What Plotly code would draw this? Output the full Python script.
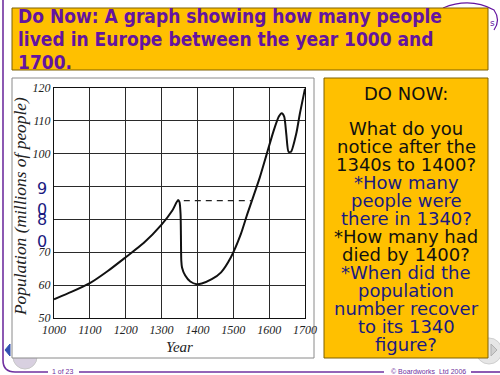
import plotly.graph_objects as go

# ---- data ----
years = [1000, 1050, 1100, 1150, 1200, 1250, 1300, 1330, 1346, 1350, 1353, 1354, 1355,
         1357, 1366, 1380, 1398, 1412, 1440, 1466, 1493, 1521, 1539, 1557, 1574, 1593,
         1612, 1627, 1635, 1642, 1648, 1654, 1661, 1676, 1685, 1700]
population = [55.7, 58.0, 60.6, 64.3, 68.5, 72.8, 78.4, 82.7, 85.9, 85.3, 81.5, 75.0, 67.5,
              65.4, 62.9, 61.1, 60.3, 60.5, 61.8, 63.9, 68.4, 75.5, 81.6, 87.3, 92.8, 99.8,
              106.8, 111.3, 112.3, 111.3, 105.8, 100.6, 100.6, 106.3, 111.8, 119.8]
ref_years = [1362, 1553]
ref_level = [85.7, 85.7]
x_ticks = [1000, 1100, 1200, 1300, 1400, 1500, 1600, 1700]
y_ticks = [50, 60, 70, 80, 90, 100, 110, 120]
y_ticktext = ["50", "60", "70", "", "", "100", "110", "120"]
title_lines = ["Do Now: A graph showing how many people",
               "lived in Europe between the year 1000 and",
               "1700."]
box_lines = ["DO NOW:", "", "What do you", "notice after the", "1340s to 1400?",
             "*How many", "people were", "there in 1340?",
             "*How many had", "died by 1400?",
             "*When did the", "population", "number recover", "to its 1340", "figure?"]

W, H = 500, 375
def px(x): return x / W
def py(y): return 1 - y / H

PURPLE = "#6414A0"
ORANGE = "#FFC000"
NAVY = "#1A1A80"
SERIF = "Liberation Serif"
TITLE_FONT = "DejaVu Sans Condensed, DejaVu Sans"
BOX_FONT = "DejaVu Sans"

fig = go.Figure()
fig.add_trace(go.Scatter(x=years, y=population, mode="lines",
                         line=dict(color="#111", width=2, shape="spline", smoothing=0.6),
                         hoverinfo="skip", showlegend=False))
fig.add_trace(go.Scatter(x=ref_years, y=ref_level, mode="lines",
                         line=dict(color="#222", width=1.3, dash="6px,5px"),
                         hoverinfo="skip", showlegend=False))

shapes = []
def rect(x0, y0, x1, y1, fill, line, lw=1, layer="below"):
    shapes.append(dict(type="rect", xref="paper", yref="paper",
                       x0=px(x0), x1=px(x1), y0=py(y1), y1=py(y0),
                       fillcolor=fill, line=dict(color=line, width=lw), layer=layer))

def path(pts_str, color, width=1.5, fill=None, layer="below"):
    shapes.append(dict(type="path", xref="paper", yref="paper", path=pts_str,
                       line=dict(color=color, width=width),
                       fillcolor=fill if fill else "rgba(0,0,0,0)", layer=layer))

def P(x, y): return f"{px(x):.5f},{py(y):.5f}"

# nav buttons (behind panels)
shapes.append(dict(type="circle", xref="paper", yref="paper", x0=px(13), x1=px(37),
                   y0=py(369), y1=py(345), fillcolor="#d8d0e0", line=dict(color="#c8c8c8", width=1), layer="below"))
shapes.append(dict(type="circle", xref="paper", yref="paper", x0=px(476), x1=px(502),
                   y0=py(364), y1=py(338), fillcolor="#e6e6e6", line=dict(color="#cfcfcf", width=1), layer="below"))
# logo arc
path(f"M {P(443,8)} Q {P(470,-3)} {P(494,10)} Q {P(501,20)} {P(494,30)}", PURPLE, 1.2)

# panels
rect(12, 8, 488, 70, ORANGE, "#7F6000", 1)
rect(12, 78, 314, 358, "white", "#8a8a8a", 1)
rect(324, 78, 488, 358, ORANGE, "#7F6000", 1)

# slide frame / footer
path(f"M {P(3,0)} L {P(3,360)} Q {P(3,372)} {P(15,372)} L {P(48,372)}", "#7030A0", 1.6)
path(f"M {P(79,372)} L {P(384,372)}", "#7030A0", 1.6)
path(f"M {P(471,372)} L {P(500,372)}", "#7030A0", 1.6)
# nav arrows
path(f"M {P(10,344)} L {P(5,350)} L {P(10,356)} Z", "#3050b0", 1, fill="#3050b0")
path(f"M {P(491,344)} L {P(497,350)} L {P(491,356)} Z", "#b0b0b0", 1, fill="#d0d0d0")

ann = []
for i, line in enumerate(title_lines):
    ann.append(dict(x=px(16), y=py(16 + 23 * i), xref="paper", yref="paper", xanchor="left", yanchor="middle",
                    align="left", showarrow=False, text=line,
                    font=dict(family=TITLE_FONT, size=19, color=PURPLE, weight="bold")))
box_colors = ["#111"] * 5 + [NAVY] * 3 + ["#111"] * 2 + [NAVY] * 5
for i, line in enumerate(box_lines):
    if not line:
        continue
    ann.append(dict(x=px(406), y=py(93 + 17.93 * i), xref="paper", yref="paper", xanchor="center",
                    yanchor="middle", showarrow=False, text=line,
                    font=dict(family=BOX_FONT, size=18, color=box_colors[i])))
# axis titles
ann.append(dict(x=px(20), y=py(207), xref="paper", yref="paper", xanchor="center", yanchor="middle",
                showarrow=False, textangle=-90, text="Population (millions of people)",
                font=dict(family=SERIF, size=17.4, color="#222", style="italic")))
ann.append(dict(x=px(179.5), y=py(347), xref="paper", yref="paper", xanchor="center", yanchor="middle",
                showarrow=False, text="Year",
                font=dict(family=SERIF, size=15, color="#222", style="italic")))
# overlaid blue digits
for ch, yy in [("9", 188), ("0", 209), ("8", 219), ("0", 241)]:
    ann.append(dict(x=px(41.5), y=py(yy), xref="paper", yref="paper", xanchor="center", yanchor="middle",
                    showarrow=False, text=ch, font=dict(family=BOX_FONT, size=16, color=NAVY)))
# footer text
ann.append(dict(x=px(63), y=py(371), xref="paper", yref="paper", xanchor="center", yanchor="middle",
                showarrow=False, text="1 of 23", font=dict(family="Liberation Sans", size=7, color="#7030A0")))
ann.append(dict(x=px(428), y=py(371), xref="paper", yref="paper", xanchor="center", yanchor="middle",
                showarrow=False, text="© Boardworks  Ltd 2006", font=dict(family="Liberation Sans", size=7, color="#7030A0")))
ann.append(dict(x=px(492), y=py(23), xref="paper", yref="paper", xanchor="center", yanchor="middle",
                showarrow=False, text="s", font=dict(family=BOX_FONT, size=9, color=PURPLE)))

axis_common = dict(showgrid=True, gridcolor="#2a2a2a", gridwidth=1, showline=True, linecolor="#111",
                   linewidth=1.2, mirror=True, ticks="", zeroline=False, fixedrange=True, automargin=False)
fig.update_layout(
    width=W, height=H, autosize=False, margin=dict(l=0, r=0, t=0, b=0, pad=0),
    paper_bgcolor="white", plot_bgcolor="rgba(0,0,0,0)",
    xaxis=dict(domain=[px(54), px(305)], range=[1000, 1700], tickvals=x_ticks,
               tickfont=dict(family=SERIF, size=12, color="#222", style="italic"), **axis_common),
    yaxis=dict(domain=[py(318), py(88)], range=[50, 120], tickvals=y_ticks, ticktext=y_ticktext,
               tickfont=dict(family=SERIF, size=12, color="#222", style="italic"), **axis_common),
    shapes=shapes, annotations=ann, showlegend=False,
)
fig.write_html("out.html", config={"displayModeBar": False},
               post_script="document.body.style.margin='0';document.body.style.padding='0';")
